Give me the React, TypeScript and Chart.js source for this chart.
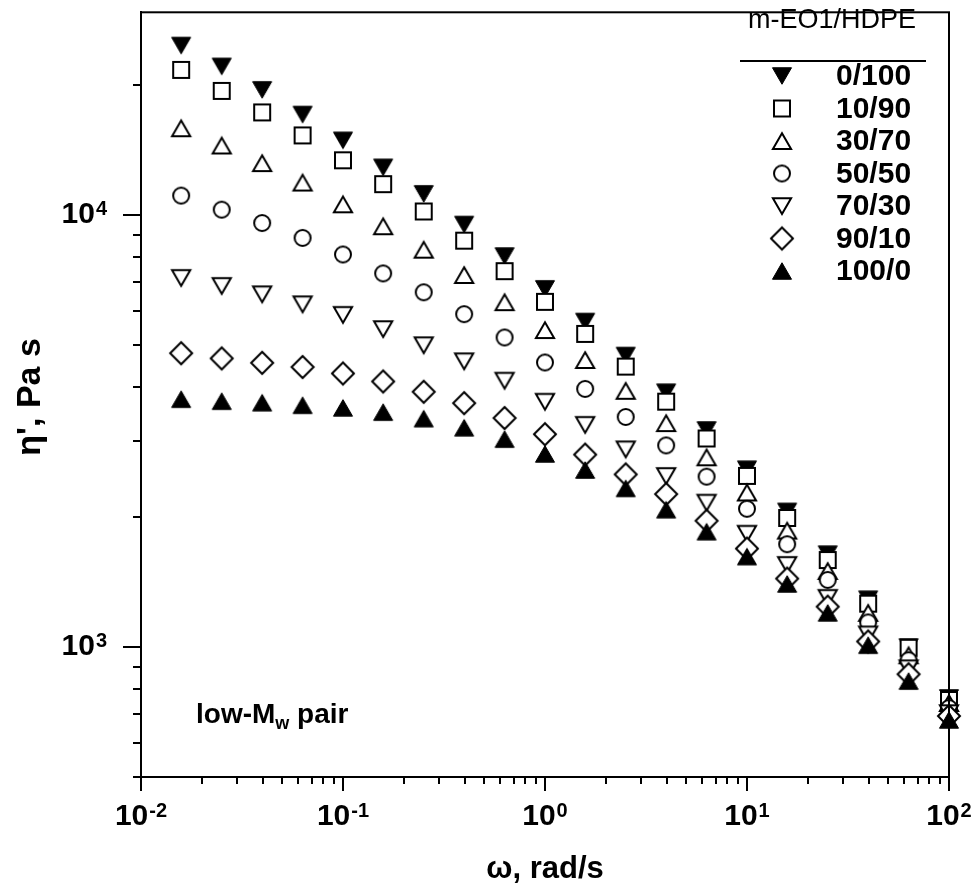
import React, { useEffect, useRef } from 'react';
import { Chart, registerables } from 'chart.js';

Chart.register(...registerables);

// angular frequency, rad/s
const omega = [0.0158, 0.0251, 0.0398, 0.0631, 0.1, 0.158, 0.251, 0.398, 0.631, 1, 1.58, 2.51, 3.98, 6.31, 10, 15.8, 25.1, 39.8, 63.1, 100];

// dynamic viscosity eta', Pa s
const eta_0_100 = [24700, 22100, 19500, 17100, 14900, 12900, 11200, 9510, 8040, 6750, 5670, 4730, 3890, 3180, 2580, 2060, 1640, 1290, 1000, 762];
const eta_10_90 = [21700, 19400, 17300, 15300, 13400, 11800, 10200, 8730, 7420, 6300, 5310, 4460, 3700, 3040, 2490, 1990, 1590, 1260, 996, 754];
const eta_30_70 = [15900, 14500, 13200, 11900, 10600, 9430, 8320, 7270, 6290, 5420, 4620, 3920, 3300, 2750, 2280, 1860, 1500, 1200, 957, 742];
const eta_50_50 = [11100, 10300, 9590, 8860, 8110, 7330, 6630, 5900, 5210, 4560, 3960, 3410, 2930, 2480, 2090, 1730, 1430, 1140, 932, 722];
const eta_70_30 = [7160, 6860, 6560, 6220, 5880, 5450, 5000, 4590, 4140, 3700, 3270, 2870, 2490, 2160, 1830, 1550, 1300, 1070, 893, 703];
const eta_90_10 = [4790, 4660, 4550, 4450, 4300, 4120, 3900, 3670, 3390, 3110, 2790, 2510, 2260, 1960, 1690, 1440, 1240, 1030, 865, 692];
const eta_100_0 = [3750, 3710, 3680, 3630, 3580, 3500, 3380, 3220, 3030, 2800, 2570, 2330, 2080, 1850, 1620, 1400, 1200, 1010, 834, 678];

const seriesLabels = ['0/100', '10/90', '30/70', '50/50', '70/30', '90/10', '100/0'];
const seriesValues = [eta_0_100, eta_10_90, eta_30_70, eta_50_50, eta_70_30, eta_90_10, eta_100_0];

const legendTitle = 'm-EO1/HDPE';
const xTitle = 'ω, rad/s';
const yTitle = "η', Pa s";

const xMin = 0.01, xMax = 100;
const yMin = 500, yMax = 29500;
const xMajorExps = [-2, -1, 0, 1, 2];
const yMajorExps = [3, 4];

type Marker = { style: string; down: boolean; filled: boolean; r: number };
const markers: Marker[] = [
  { style: 'triangle', down: true, filled: true, r: 11 },
  { style: 'rect', down: false, filled: false, r: 11.3 },
  { style: 'triangle', down: false, filled: false, r: 10.5 },
  { style: 'circle', down: false, filled: false, r: 8 },
  { style: 'triangle', down: true, filled: false, r: 10.5 },
  { style: 'rectRot', down: false, filled: false, r: 11 },
  { style: 'triangle', down: false, filled: true, r: 11 },
];

const FONT = '"Liberation Sans", Arial, sans-serif';

// marker image, drawn so that the bounding box is centred on the data point
function makeMarker(m: Marker): HTMLCanvasElement {
  const r = m.r;
  const size = 2 * Math.ceil(r + 3);
  const cv = document.createElement('canvas');
  cv.width = size;
  cv.height = size;
  const ctx = cv.getContext('2d')!;
  const c = size / 2;
  ctx.beginPath();
  if (m.style === 'circle') {
    ctx.arc(c, c, r, 0, Math.PI * 2);
  } else if (m.style === 'rect') {
    const s = Math.SQRT1_2 * r;
    ctx.rect(c - s, c - s, 2 * s, 2 * s);
  } else if (m.style === 'rectRot') {
    ctx.moveTo(c - r, c);
    ctx.lineTo(c, c - r);
    ctx.lineTo(c + r, c);
    ctx.lineTo(c, c + r);
    ctx.closePath();
  } else {
    const hw = (Math.sqrt(3) / 2) * r;
    const h = 1.5 * r;
    if (m.down) {
      ctx.moveTo(c - hw, c - h / 2);
      ctx.lineTo(c + hw, c - h / 2);
      ctx.lineTo(c, c + h / 2);
    } else {
      ctx.moveTo(c - hw, c + h / 2);
      ctx.lineTo(c + hw, c + h / 2);
      ctx.lineTo(c, c - h / 2);
    }
    ctx.closePath();
  }
  ctx.fillStyle = m.filled ? '#000' : '#fff';
  ctx.fill();
  ctx.lineWidth = m.filled ? 1 : 2;
  ctx.lineJoin = 'miter';
  ctx.strokeStyle = '#000';
  ctx.stroke();
  return cv;
}

// draws "10" with a raised exponent; anchor: 'center' | 'right'; baseline = digits baseline
function drawPow(ctx: CanvasRenderingContext2D, e: number, x: number, baseline: number, anchor: string) {
  const big = `bold 30px ${FONT}`;
  const small = `bold 20px ${FONT}`;
  ctx.font = big;
  const w1 = ctx.measureText('10').width;
  ctx.font = small;
  const ex = String(e);
  const w2 = ctx.measureText(ex).width;
  const total = w1 + w2 + 1;
  const x0 = anchor === 'center' ? x - total / 2 : x - total;
  ctx.textAlign = 'left';
  ctx.textBaseline = 'alphabetic';
  ctx.font = big;
  ctx.fillText('10', x0, baseline);
  ctx.font = small;
  ctx.fillText(ex, x0 + w1 + 1, baseline - 8);
}

let markerImages: HTMLCanvasElement[] = [];

const decorPlugin = {
  id: 'decor',
  afterDatasetsDraw(chart: any) {
    const { ctx, chartArea: a, scales } = chart;
    const xs = scales.x, ys = scales.y;
    ctx.save();
    ctx.strokeStyle = '#000';
    ctx.fillStyle = '#000';
    ctx.lineCap = 'butt';
    // ticks
    ctx.lineWidth = 2;
    for (let e = -2; e <= 2; e++) {
      for (let k = 1; k <= 9; k++) {
        const v = k * Math.pow(10, e);
        if (v > xMax * 1.0001) break;
        const px = Math.round(xs.getPixelForValue(v));
        const len = k === 1 ? 14 : 7;
        ctx.beginPath();
        ctx.moveTo(px, a.bottom);
        ctx.lineTo(px, a.bottom + len);
        ctx.stroke();
      }
    }
    for (let e = 2; e <= 4; e++) {
      for (let k = 1; k <= 9; k++) {
        const v = k * Math.pow(10, e);
        if (v < yMin * 0.9999 || v > yMax * 1.0001) continue;
        const py = Math.round(ys.getPixelForValue(v));
        const len = k === 1 ? 18 : 8;
        ctx.beginPath();
        ctx.moveTo(a.left, py);
        ctx.lineTo(a.left - len, py);
        ctx.stroke();
      }
    }
    // frame
    ctx.lineWidth = 2;
    ctx.strokeRect(a.left, a.top, a.right - a.left, a.bottom - a.top);

    // tick labels
    xMajorExps.forEach((e) => drawPow(ctx, e, xs.getPixelForValue(Math.pow(10, e)), 825, 'center'));
    yMajorExps.forEach((e) => drawPow(ctx, e, 107, ys.getPixelForValue(Math.pow(10, e)) + 8, 'right'));

    // axis titles
    ctx.font = `bold 31px ${FONT}`;
    ctx.textAlign = 'center';
    ctx.textBaseline = 'middle';
    ctx.fillText(xTitle, (a.left + a.right) / 2, 869);
    ctx.save();
    ctx.translate(31, 397);
    ctx.rotate(-Math.PI / 2);
    ctx.font = `bold 34px ${FONT}`;
    ctx.fillText(yTitle, 0, 0);
    ctx.restore();

    // annotation low-Mw pair
    ctx.textAlign = 'left';
    ctx.textBaseline = 'alphabetic';
    ctx.font = `bold 28px ${FONT}`;
    let tx = 196;
    const by = 723;
    ctx.fillText('low-M', tx, by);
    tx += ctx.measureText('low-M').width;
    ctx.font = `bold 18px ${FONT}`;
    ctx.fillText('w', tx, by + 6);
    tx += ctx.measureText('w').width;
    ctx.font = `bold 28px ${FONT}`;
    ctx.fillText(' pair', tx, by);

    // legend
    ctx.font = `27px ${FONT}`;
    ctx.textAlign = 'center';
    ctx.textBaseline = 'middle';
    ctx.fillText(legendTitle, 832, 21);
    ctx.lineWidth = 2;
    ctx.beginPath();
    ctx.moveTo(740, 61);
    ctx.lineTo(926, 61);
    ctx.stroke();
    ctx.font = `bold 30px ${FONT}`;
    ctx.textAlign = 'left';
    seriesLabels.forEach((lab, i) => {
      const yy = 76 + i * 32.5;
      const img = markerImages[i];
      if (img) ctx.drawImage(img, 782 - img.width / 2, yy - img.height / 2);
      ctx.fillText(lab, 836, yy + 1);
    });
    ctx.restore();
  },
};

export default function App() {
  const ref = useRef<HTMLCanvasElement>(null);
  useEffect(() => {
    document.body.style.margin = '0';
    markerImages = markers.map(makeMarker);
    const datasets = seriesValues.map((vals, i) => {
      const m = markers[i];
      return {
        label: seriesLabels[i],
        data: omega.map((x, j) => ({ x, y: vals[j] })),
        showLine: false,
        pointStyle: markerImages[i],
        pointRadius: m.r,
        pointHoverRadius: m.r,
        order: 6 - i,
        clip: false as any,
      };
    });
    const chart = new Chart(ref.current!, {
      type: 'scatter',
      data: { datasets: datasets as any },
      plugins: [decorPlugin],
      options: {
        animation: false,
        responsive: false,
        events: [],
        layout: { padding: { left: 0, right: 31, top: 9, bottom: 0 } },
        plugins: { legend: { display: false }, tooltip: { enabled: false } },
        scales: {
          x: {
            type: 'logarithmic',
            min: xMin,
            max: xMax,
            grid: { display: false, drawTicks: false },
            border: { display: true, color: '#000', width: 2 },
            ticks: { display: false },
            afterFit: (s: any) => { s.height = 895 - 777; },
          },
          y: {
            type: 'logarithmic',
            min: yMin,
            max: yMax,
            grid: { display: false, drawTicks: false },
            border: { display: true, color: '#000', width: 2 },
            ticks: { display: false },
            afterFit: (s: any) => { s.width = 141; },
          },
        },
      },
    });
    return () => chart.destroy();
  }, []);
  return <canvas ref={ref} width={980} height={895} style={{ display: 'block' }} />;
}
